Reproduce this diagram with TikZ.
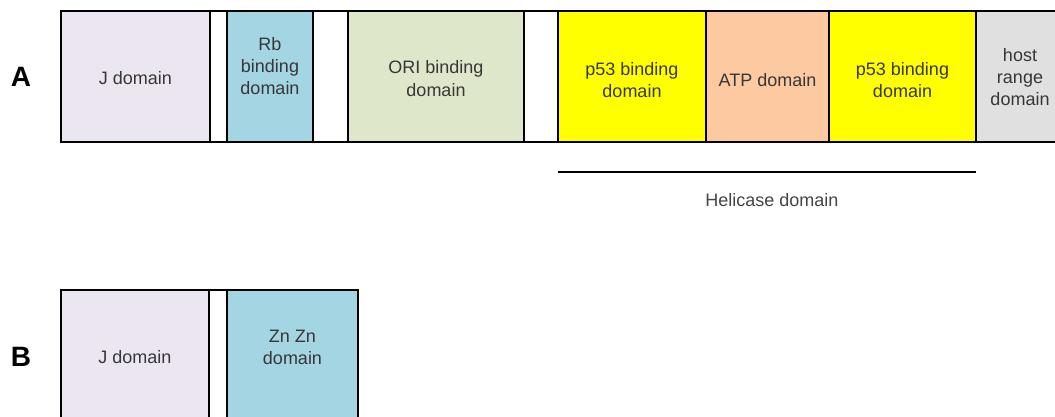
\documentclass[tikz,border=0pt]{standalone}
\usepackage{fontspec}
\setmainfont{Liberation Sans}
\usepackage{tikz}
\usetikzlibrary{calc}
\usetikzlibrary{positioning}
\tikzset{
dombox/.style={rectangle,draw,black,line width=2.5pt,inner sep=0pt,outer sep=0pt,minimum height=131pt,fill=white,anchor=center},
jdom/.style={dombox,fill={rgb,255:red,235;green,230;blue,240}},
rbdom/.style={dombox,fill={rgb,255:red,164;green,213;blue,227}},
oridom/.style={dombox,fill={rgb,255:red,223;green,231;blue,202}},
p53dom/.style={dombox,fill={rgb,255:red,255;green,255;blue,0}},
atpdom/.style={dombox,fill={rgb,255:red,252;green,201;blue,160}},
hostdom/.style={dombox,fill={rgb,255:red,224;green,224;blue,224}},
lbl/.style={align=center,inner sep=0pt,text={rgb,255:red,55;green,55;blue,55},font=\fontsize{18}{22}\selectfont},
rowlbl/.style={inner sep=0pt,text=black,font=\fontsize{28}{30}\selectfont\bfseries},
bar/.style={black,line width=2.5pt}
}
\begin{document}
\begin{tikzpicture}[x=1pt,y=-1pt]
    \path[use as bounding box,clip] (0,0) rectangle (1055,416);
    %
    % row A
    \node[rowlbl](A) at (21,77) {A};
    \node[jdom,minimum width=149pt](jA) at (135.5,76.5) {};
    \node[dombox,minimum width=17pt,right=0pt of jA](g1A) {};
    \node[rbdom,minimum width=86pt,right=0pt of g1A](rbA) {};
    \node[dombox,minimum width=35pt,right=0pt of rbA](g2A) {};
    \node[oridom,minimum width=176pt,right=0pt of g2A](oriA) {};
    \node[dombox,minimum width=34pt,right=0pt of oriA](g3A) {};
    \node[p53dom,minimum width=148pt,right=0pt of g3A](p53A) {};
    \node[atpdom,minimum width=123pt,right=0pt of p53A](atpA) {};
    \node[p53dom,minimum width=147pt,right=0pt of atpA](p53bA) {};
    \node[hostdom,minimum width=88pt,right=0pt of p53bA](hostA) {};
    %
    \node[lbl](jAl) at ($(jA)+(0,1.5)$) {J domain};
    \node[lbl](rbAl) at ($(rbA)+(0,-10.5)$) {Rb\\binding\\domain};
    \node[lbl,font=\fontsize{18}{23}\selectfont](oriAl) at ($(oriA)+(0,2)$) {ORI binding\\domain};
    \node[lbl](p53Al) at ($(p53A)+(0,3.5)$) {p53 binding\\domain};
    \node[lbl](atpAl) at ($(atpA)+(0,3.5)$) {ATP domain};
    \node[lbl](p53bAl) at ($(p53bA)+(0,3.5)$) {p53 binding\\domain};
    \node[lbl](hostAl) at ($(hostA)+(0,0.5)$) {host\\range\\domain};
    %
    % helicase span
    \coordinate (hl) at ($(p53A.south west)+(0,30)$);
    \coordinate (hr) at ($(p53bA.south east)+(0,30)$);
    \draw[bar] (hl) -- (hr);
    \node[lbl,text={rgb,255:red,68;green,68;blue,68}](helA) at ($(hl)!0.5!(hr)+(5,28)$) {Helicase domain};
    %
    % row B
    \node[rowlbl](B) at (21,357) {B};
    \node[jdom,minimum width=148pt](jB) at (135,355.5) {};
    \node[dombox,minimum width=18pt,right=0pt of jB](g1B) {};
    \node[rbdom,minimum width=131pt,right=0pt of g1B](znB) {};
    %
    \node[lbl](jBl) at ($(jB)+(0,1.5)$) {J domain};
    \node[lbl](znBl) at ($(znB)+(0,-8.5)$) {Zn Zn\\domain};
\end{tikzpicture}
\end{document}
